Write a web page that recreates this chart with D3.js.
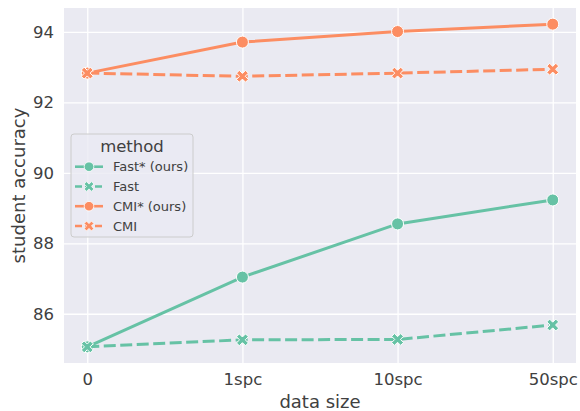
<!DOCTYPE html>
<html><head><meta charset="utf-8">
<script src="https://cdn.jsdelivr.net/npm/d3@7/dist/d3.min.js"></script>
<style>body{margin:0;background:#fff}svg{display:block}text{font-family:"DejaVu Sans",sans-serif;fill:#404040}</style>
</head><body><svg id="c" width="580" height="411"></svg>
<script>
const categories = ["0", "1spc", "10spc", "50spc"];
const fastOurs = [85.06, 87.04, 88.55, 89.23];
const fast = [85.06, 85.26, 85.27, 85.68];
const cmiOurs = [92.83, 93.71, 94.01, 94.22];
const cmi = [92.83, 92.74, 92.83, 92.94];
const yTicks = [86, 88, 90, 92, 94];
const seriesNames = ["Fast* (ours)", "Fast", "CMI* (ours)", "CMI"];
const colors = ["#66c2a5", "#66c2a5", "#fc8d62", "#fc8d62"];
const dashedFlags = [false, true, false, true];

const series = [fastOurs, fast, cmiOurs, cmi].map((v, i) => ({
  name: seriesNames[i], values: v, color: colors[i], dashed: dashedFlags[i]
}));

const svg = d3.select("#c");
const L = 64, R = 576, T = 8, B = 363;
const x = d3.scalePoint().domain(categories).range([L, R]).padding(0.15);
const all = series.flatMap(s => s.values);
const mn = d3.min(all), mx = d3.max(all), m = (mx - mn) * 0.05;
const y = d3.scaleLinear().domain([mn - m, mx + m]).range([B, T]);

svg.append("rect").attr("x", L).attr("y", T).attr("width", R - L).attr("height", B - T).attr("fill", "#eaeaf2");

const gx = svg.append("g").attr("transform", `translate(0,${B})`)
  .call(d3.axisBottom(x).tickSize(-(B - T)).tickPadding(10));
const gy = svg.append("g").attr("transform", `translate(${L},0)`)
  .call(d3.axisLeft(y).tickValues(yTicks).tickFormat(d3.format("d")).tickSize(-(R - L)).tickPadding(10));
[gx, gy].forEach(g => {
  g.select(".domain").remove();
  g.selectAll(".tick line").attr("stroke", "#fff").attr("stroke-width", 1.3);
  g.selectAll(".tick text").attr("font-size", 16.5).attr("fill", "#404040").attr("font-family", "DejaVu Sans");
});

svg.append("text").attr("x", (L + R) / 2).attr("y", 408).attr("text-anchor", "middle")
  .attr("font-size", 18).text("data size");
svg.append("text").attr("transform", `translate(25,${(T + B) / 2}) rotate(-90)`).attr("text-anchor", "middle")
  .attr("font-size", 18).text("student accuracy");

function xMarker(s, t) {
  const Lh = s;
  const pts = [[t, t], [Lh, t], [Lh, -t], [t, -t], [t, -Lh], [-t, -Lh], [-t, -t], [-Lh, -t], [-Lh, t], [-t, t], [-t, Lh], [t, Lh]];
  const c = Math.SQRT1_2;
  return "M" + pts.map(([a, b]) => [(a - b) * c, (a + b) * c].map(v => v.toFixed(2)).join(",")).join("L") + "Z";
}

const line = d3.line().x((d, i) => x(categories[i])).y(d => y(d));
series.forEach(s => {
  const g = svg.append("g");
  g.append("path").attr("d", line(s.values)).attr("fill", "none").attr("stroke", s.color)
    .attr("stroke-width", 3).attr("stroke-dasharray", s.dashed ? "12,4.5" : null).attr("stroke-linecap", "butt");
  s.values.forEach((v, i) => {
    if (s.dashed) {
      g.append("path").attr("d", xMarker(6.4, 2.0)).attr("transform", `translate(${x(categories[i])},${y(v)})`)
        .attr("fill", s.color).attr("stroke", "#fff").attr("stroke-width", 1);
    } else {
      g.append("circle").attr("cx", x(categories[i])).attr("cy", y(v)).attr("r", 6)
        .attr("fill", s.color).attr("stroke", "#fff").attr("stroke-width", 1);
    }
  });
});

// legend
const lg = svg.append("g");
lg.append("rect").attr("x", 71).attr("y", 134).attr("width", 122).attr("height", 103).attr("rx", 3)
  .attr("fill", "#eaeaf2").attr("fill-opacity", 0.8).attr("stroke", "#cccccc").attr("stroke-width", 1);
lg.append("text").attr("x", 132).attr("y", 152).attr("text-anchor", "middle").attr("font-size", 16.5).text("method");
const ly = [166.7, 186.5, 206.2, 226];
series.forEach((s, i) => {
  const yy = ly[i];
  lg.append("line").attr("x1", 75).attr("x2", 103).attr("y1", yy).attr("y2", yy).attr("stroke", s.color)
    .attr("stroke-width", 2.6).attr("stroke-dasharray", s.dashed ? "7,3" : null);
  if (s.dashed) {
    lg.append("path").attr("d", xMarker(5.2, 1.7)).attr("transform", `translate(89,${yy})`)
      .attr("fill", s.color).attr("stroke", "#fff").attr("stroke-width", 0.8);
  } else {
    lg.append("circle").attr("cx", 89).attr("cy", yy).attr("r", 4.8).attr("fill", s.color)
      .attr("stroke", "#fff").attr("stroke-width", 0.8);
  }
  lg.append("text").attr("x", 113).attr("y", yy + 4.6).attr("font-size", 13).text(s.name);
});
</script></body></html>
